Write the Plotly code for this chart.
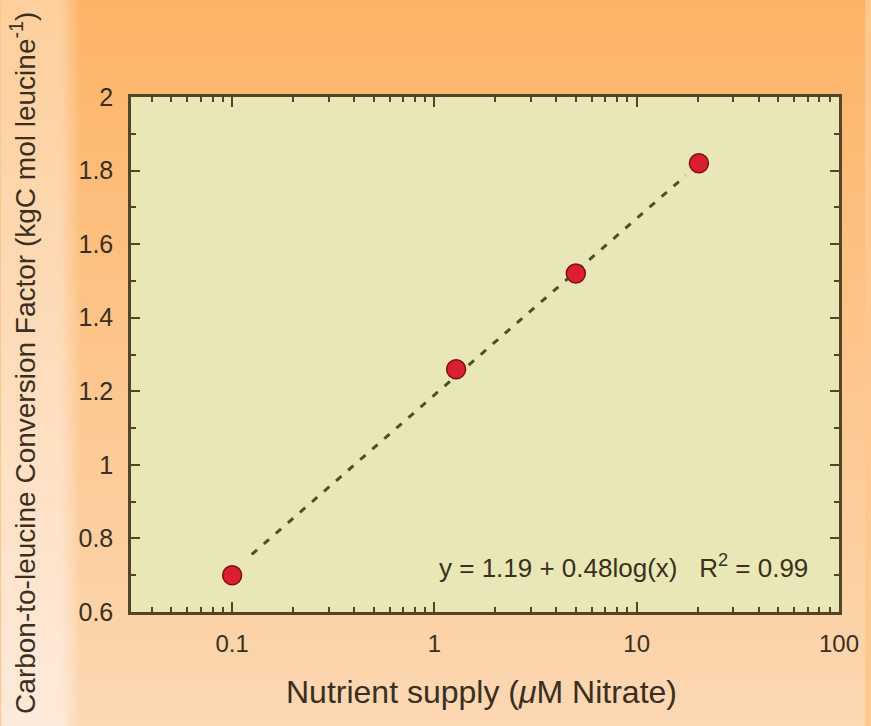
import plotly.graph_objects as go
import math

# ---- data ----
nitrate = [0.1, 1.28, 5.0, 20.3]
conversion = [0.70, 1.26, 1.52, 1.82]
fit_intercept = 1.19
fit_slope = 0.48
fit_x = [0.125, 17.5]
x_tickvals = [0.1, 1, 10, 100]
x_ticktext = ["0.1", "1", "10", "100"]
y_tickvals = [0.6, 0.8, 1.0, 1.2, 1.4, 1.6, 1.8, 2.0]
y_ticktext = ["0.6", "0.8", "1", "1.2", "1.4", "1.6", "1.8", "2"]

fit_y = [fit_intercept + fit_slope * math.log10(v) for v in fit_x]

W, H = 871, 726
L, R, T, B = 131, 845, 97, 612
PW, PH = R - L, B - T

def px_x(p):
    return (p - L) / PW

def px_y(p):
    return (B - p) / PH

def hex2rgb(h):
    h = h.lstrip("#")
    return [int(h[i:i + 2], 16) for i in (0, 2, 4)]

def mix(c1, c2, t):
    return [c1[i] + (c2[i] - c1[i]) * t for i in range(3)]

main_top, main_bot = hex2rgb("#fdb366"), hex2rgb("#fcd8b3")
band_top, band_bot = hex2rgb("#fdcf9c"), hex2rgb("#feeadb")

cols = [(0, 60)] + [(60 + 3 * i, 63 + 3 * i) for i in range(7)] + [(81, W)]
shapes = []
step = 10
for y0 in range(0, H, step):
    y1 = min(H, y0 + step)
    t = (y0 + y1) / 2 / H
    mc = mix(main_top, main_bot, t)
    bc = mix(band_top, band_bot, t)
    for (x0, x1) in cols:
        xc = (x0 + x1) / 2
        if xc < 60:
            w = 1.0
        elif xc > 81:
            w = 0.0
        else:
            w = 1 - (xc - 60) / 21
        c = mix(mc, bc, w)
        shapes.append(dict(
            type="rect", xref="paper", yref="paper", layer="below",
            x0=px_x(x0), x1=px_x(x1 + 0.5), y0=px_y(y1 + 0.5), y1=px_y(y0),
            fillcolor="rgb(%d,%d,%d)" % tuple(int(round(v)) for v in c),
            line=dict(width=0)))

shapes.append(dict(type="rect", xref="x domain", yref="y domain", layer="below",
                   x0=0, x1=1, y0=0, y1=1, fillcolor="#e9e7b5", line=dict(width=0)))

axis_col = "#54452a"
text_col = "#3a2f20"
font_fam = "Liberation Sans, Arial, sans-serif"

fig = go.Figure()
fig.add_trace(go.Scatter(
    x=fit_x, y=fit_y, mode="lines",
    line=dict(color="#4a5321", width=3, dash="7px,9px"),
    hoverinfo="skip", showlegend=False))
fig.add_trace(go.Scatter(
    x=nitrate, y=conversion, mode="markers",
    marker=dict(size=19, color="#da2030", line=dict(color="#7a1212", width=1.5)),
    showlegend=False))

fig.update_xaxes(
    type="log", range=[-1.5, 2], tickmode="array", tickvals=x_tickvals, ticktext=x_ticktext,
    ticks="inside", ticklen=10, tickwidth=1.8, tickcolor=axis_col,
    minor=dict(ticks="inside", ticklen=5, tickwidth=1.5, tickcolor=axis_col, dtick="D1", showgrid=False),
    showline=True, linecolor=axis_col, linewidth=2.5, mirror="allticks",
    showgrid=False, zeroline=False, ticklabelstandoff=8,
    tickfont=dict(size=24, color=text_col, family=font_fam))
fig.update_yaxes(
    range=[0.6, 2], tickmode="array", tickvals=y_tickvals, ticktext=y_ticktext,
    ticks="inside", ticklen=9, tickwidth=1.8, tickcolor=axis_col,
    minor=dict(ticks="inside", ticklen=5, tickwidth=1.5, tickcolor=axis_col, dtick=0.1, showgrid=False),
    showline=True, linecolor=axis_col, linewidth=2.5, mirror="allticks",
    showgrid=False, zeroline=False, ticklabelstandoff=10,
    tickfont=dict(size=25, color=text_col, family=font_fam))

annotations = [
    dict(text="y = 1.19 + 0.48log(x)\u00a0\u00a0\u00a0R<sup>2</sup> = 0.99",
         xref="paper", yref="paper", x=px_x(628), y=px_y(566),
         xanchor="center", yanchor="middle", showarrow=False,
         font=dict(size=26, color=text_col, family=font_fam)),
    dict(text="Nutrient supply (<i>\u03bc</i>M Nitrate)",
         xref="paper", yref="paper", x=px_x(484), y=px_y(692),
         xanchor="center", yanchor="middle", showarrow=False,
         font=dict(size=32, color=text_col, family=font_fam)),
    dict(text="Carbon-to-leucine Conversion Factor (kgC mol leucine<sup>-1</sup>)",
         xref="paper", yref="paper", x=px_x(22), y=px_y(363),
         xanchor="center", yanchor="middle", showarrow=False, textangle=-90,
         font=dict(size=28, color=text_col, family=font_fam)),
]

fig.update_layout(
    width=W, height=H,
    margin=dict(l=L, r=W - R, t=T, b=H - B, pad=0),
    paper_bgcolor="#fcc890", plot_bgcolor="#e9e7b5",
    shapes=shapes, annotations=annotations,
    font=dict(family=font_fam, color=text_col),
    showlegend=False)

fig.write_html("out.html")
